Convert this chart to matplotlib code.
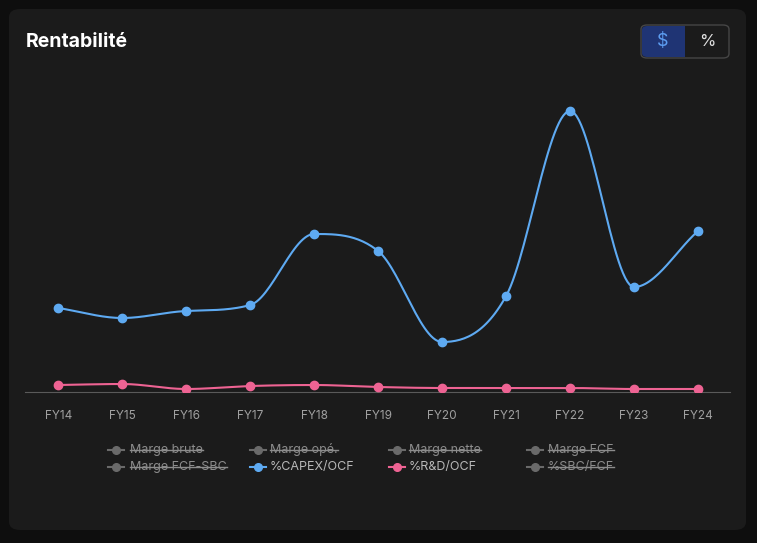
import matplotlib.pyplot as plt
import numpy as np
from matplotlib.patches import FancyBboxPatch, Rectangle
from matplotlib.lines import Line2D

# data
years = ["FY14", "FY15", "FY16", "FY17", "FY18", "FY19", "FY20", "FY21", "FY22", "FY23", "FY24"]
capex_ocf = [42.0, 37.0, 40.5, 43.5, 79.0, 70.5, 25.0, 48.0, 140.5, 52.5, 80.5]
rd_ocf = [3.5, 4.0, 1.5, 3.0, 3.5, 2.5, 2.0, 2.0, 2.0, 1.5, 1.5]

legend_items = [
    ("Marge brute", False), ("Marge opé.", False), ("Marge nette", False), ("Marge FCF", False),
    ("Marge FCF-SBC", False), ("%CAPEX/OCF", True), ("%R&D/OCF", True), ("%SBC/FCF", False),
]

BLUE = "#5eaaf2"
PINK = "#ee6393"
W, H = 757, 543

plt.rcParams['font.family'] = ['Inter', 'DejaVu Sans']


def monotone(x, y, n=30):
    # Fritsch-Carlson monotone cubic, only for drawing the smooth line
    x = np.asarray(x, float)
    y = np.asarray(y, float)
    h = np.diff(x)
    d = np.diff(y) / h
    m = np.zeros_like(y)
    m[0], m[-1] = d[0], d[-1]
    for i in range(1, len(y) - 1):
        if d[i - 1] * d[i] <= 0:
            m[i] = 0
        else:
            m[i] = (d[i - 1] + d[i]) / 2
    for i in range(len(d)):
        if d[i] == 0:
            m[i] = m[i + 1] = 0
            continue
        a, b = m[i] / d[i], m[i + 1] / d[i]
        s = a * a + b * b
        if s > 9:
            t = 3 / np.sqrt(s)
            m[i], m[i + 1] = t * a * d[i], t * b * d[i]
    xs, ys = [], []
    for i in range(len(d)):
        t = np.linspace(0, 1, n)
        h00 = 2 * t**3 - 3 * t**2 + 1
        h10 = t**3 - 2 * t**2 + t
        h01 = -2 * t**3 + 3 * t**2
        h11 = t**3 - t**2
        xs.append(x[i] + t * h[i])
        ys.append(h00 * y[i] + h10 * h[i] * m[i] + h01 * y[i + 1] + h11 * h[i] * m[i + 1])
    return np.concatenate(xs), np.concatenate(ys)


fig = plt.figure(figsize=(W / 100, H / 100), dpi=100)
fig.patch.set_facecolor("#0e0e0e")

# card
card = FancyBboxPatch((9 / W, 1 - 530 / H), 737 / W, 521 / H,
                      boxstyle="round,pad=0,rounding_size=0.015",
                      transform=fig.transFigure, facecolor="#1b1b1b", edgecolor="none", zorder=-5)
fig.patches.append(card)

fig.text(26 / W, 1 - 42 / H, "Rentabilité", color="white", fontsize=14,
         fontweight="bold", va="center", ha="left")

# $ / % toggle
tog = FancyBboxPatch((641 / W, 1 - 58 / H), 88 / W, 33 / H,
                     boxstyle="round,pad=0,rounding_size=0.008",
                     transform=fig.transFigure, facecolor="#1b1b1b", edgecolor="#464646", lw=1)
fig.patches.append(tog)
left = FancyBboxPatch((642 / W, 1 - 57 / H), 43 / W, 31 / H,
                      boxstyle="round,pad=0,rounding_size=0.007",
                      transform=fig.transFigure, facecolor="#1f3474", edgecolor="none")
fig.patches.append(left)
fig.patches.append(Rectangle((675 / W, 1 - 57 / H), 10 / W, 31 / H, transform=fig.transFigure,
                             facecolor="#1f3474", edgecolor="none"))
fig.text(663 / W, 1 - 42 / H, "$", color="#5c9cf0", fontsize=13, ha="center", va="center")
fig.text(707 / W, 1 - 42 / H, "%", color="#e0e0e0", fontsize=12, ha="center", va="center")

# plot
ax = fig.add_axes([25 / W, (H - 392) / H, 705 / W, 312 / H])
ax.set_facecolor("none")
x = np.arange(len(years))
for vals, col in [(capex_ocf, BLUE), (rd_ocf, PINK)]:
    sx, sy = monotone(x, vals)
    ax.plot(sx, sy, color=col, lw=1.5, zorder=3)
    ax.plot(x, vals, "o", color=col, ms=6, zorder=4)
ax.set_xlim(-0.52, 10.5)
ax.set_ylim(0, 156)
ax.set_xticks(x)
ax.set_xticklabels(years, color="#a0a0a0", fontsize=8.5)
ax.tick_params(axis="x", length=0, pad=13)
ax.set_yticks([])
for s in ["top", "right", "left"]:
    ax.spines[s].set_visible(False)
ax.spines["bottom"].set_color("#5a5a5a")
ax.spines["bottom"].set_linewidth(0.8)

# legend
marker_x = [116, 258, 397, 535]
text_x = [130, 270, 409, 548]
rows_y = [450, 467]
fig.canvas.draw()
renderer = fig.canvas.get_renderer()
for i, (label, active) in enumerate(legend_items):
    r, c = divmod(i, 4)
    y = 1 - rows_y[r] / H
    if active:
        col = BLUE if "CAPEX" in label else PINK
        tcol = "#b8b8b8"
    else:
        col = "#6a6a6a"
        tcol = "#8c8c8c"
    mx = marker_x[c]
    fig.add_artist(Line2D([(mx - 8) / W, (mx + 8) / W], [y, y], color=col, lw=1.5,
                          transform=fig.transFigure))
    fig.add_artist(Line2D([mx / W], [y], marker="o", ms=5.5, color=col,
                          transform=fig.transFigure))
    t = fig.text(text_x[c] / W, y, label, color=tcol, fontsize=9, ha="left", va="center")
    if not active:
        bb = t.get_window_extent(renderer)
        fig.add_artist(Line2D([bb.x0 / W, bb.x1 / W], [y + 0.5 / H, y + 0.5 / H], color=tcol,
                              lw=1.0, transform=fig.transFigure))

fig.savefig("out.png", dpi=100, facecolor=fig.get_facecolor())
